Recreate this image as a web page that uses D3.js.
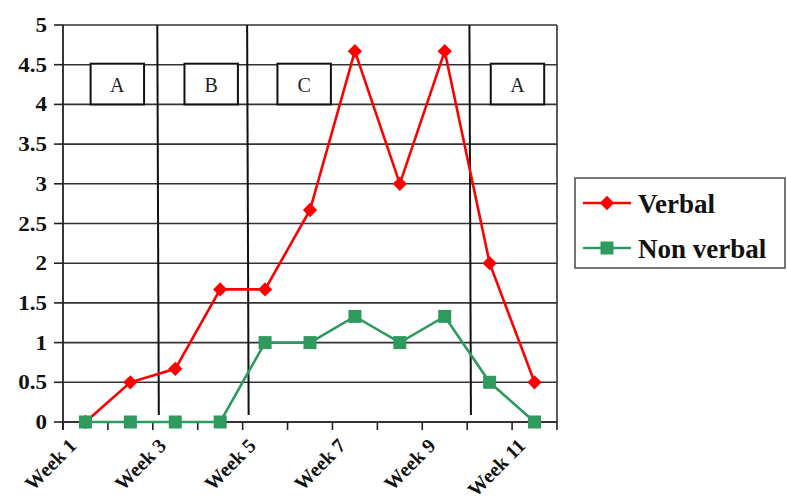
<!DOCTYPE html>
<html><head><meta charset="utf-8">
<script src="https://cdn.jsdelivr.net/npm/d3@7"></script>
<style>body{margin:0;background:#fff}</style>
</head><body><svg id="c" width="787" height="503"></svg>
<script>
const weeks = ["Week 1","Week 2","Week 3","Week 4","Week 5","Week 6","Week 7","Week 8","Week 9","Week 10","Week 11"];
const verbal = [0, 0.5, 0.67, 1.67, 1.67, 2.67, 4.67, 3, 4.67, 2, 0.5];
const nonVerbal = [0, 0, 0, 0, 1, 1, 1.33, 1, 1.33, 0.5, 0];
const yTicks = [0, 0.5, 1, 1.5, 2, 2.5, 3, 3.5, 4, 4.5, 5];
const yTickLabels = ["0","0.5","1","1.5","2","2.5","3","3.5","4","4.5","5"];
const shownWeekLabels = ["Week 1","Week 3","Week 5","Week 7","Week 9","Week 11"];
const phaseLabels = ["A","B","C","A"];
const phaseCenters = [1.21, 3.3, 5.37, 10.12];   // in week-slot units
const phaseBreaks = [2.1, 4.1, 9.05];            // in week-slot units
const seriesNames = ["Verbal","Non verbal"];
const seriesColors = ["#ff0000","#2e9a5e"];

const svg = d3.select("#c");
const L = 63, R = 557, T = 25, B = 422;
const x = d3.scaleLinear().domain([0, weeks.length]).range([L, R]);
const y = d3.scaleLinear().domain([0, 5]).range([B, T]);
const font = "'Liberation Serif','Times New Roman',serif";

// horizontal gridlines
svg.append("g").selectAll("line").data(yTicks).join("line")
  .attr("x1", L).attr("x2", R).attr("y1", d => y(d)).attr("y2", d => y(d))
  .attr("stroke", "#333").attr("stroke-width", 1.6);
// frame left/right/bottom
svg.append("line").attr("x1", L).attr("x2", L).attr("y1", T).attr("y2", B + 8).attr("stroke", "#222").attr("stroke-width", 1.8);
svg.append("line").attr("x1", R).attr("x2", R).attr("y1", T).attr("y2", B).attr("stroke", "#333").attr("stroke-width", 1.6);
svg.append("line").attr("x1", L).attr("x2", R).attr("y1", B).attr("y2", B).attr("stroke", "#333").attr("stroke-width", 1.8);

// y ticks + labels
svg.append("g").selectAll("line").data(yTicks).join("line")
  .attr("x1", L - 9).attr("x2", L).attr("y1", d => y(d)).attr("y2", d => y(d))
  .attr("stroke", "#222").attr("stroke-width", 1.6);
svg.append("g").selectAll("text").data(yTicks).join("text")
  .attr("transform", d => `translate(47,${y(d) + 7}) scale(1.15,1)`)
  .attr("text-anchor", "end").attr("font-family", font).attr("font-weight", "bold")
  .attr("font-size", 20).attr("fill", "#111")
  .text((d, i) => yTickLabels[i]);

// x ticks at slot boundaries
svg.append("g").selectAll("line").data(d3.range(weeks.length + 1)).join("line")
  .attr("x1", d => x(d)).attr("x2", d => x(d)).attr("y1", B).attr("y2", B + 8)
  .attr("stroke", "#222").attr("stroke-width", 1.6);
// x labels
svg.append("g").selectAll("text").data(weeks.map((w, i) => ({w, i})).filter(d => shownWeekLabels.includes(d.w))).join("text")
  .attr("transform", d => `translate(${x(d.i + 0.5) - 8},${B + 25}) rotate(-45)`)
  .attr("text-anchor", "end").attr("font-family", font).attr("font-weight", "bold")
  .attr("font-size", 20).attr("fill", "#111")
  .text(d => d.w);

// phase change lines
svg.append("g").selectAll("line").data(phaseBreaks).join("line")
  .attr("x1", d => x(d)).attr("x2", d => x(d) + 1.5).attr("y1", T).attr("y2", B - 7)
  .attr("stroke", "#111").attr("stroke-width", 2);

// phase boxes
const bw = x(1.19) - x(0);
const pg = svg.append("g").selectAll("g").data(phaseLabels).join("g");
pg.append("rect")
  .attr("x", (d, i) => x(phaseCenters[i]) - bw / 2).attr("y", y(4.5) - 1)
  .attr("width", bw).attr("height", y(4) - y(4.5) + 1)
  .attr("fill", "#fff").attr("stroke", "#111").attr("stroke-width", 2);
pg.append("text")
  .attr("x", (d, i) => x(phaseCenters[i])).attr("y", y(4.25) + 7)
  .attr("text-anchor", "middle").attr("font-family", font).attr("font-size", 20).attr("fill", "#222")
  .text(d => d);

// series
const line = d3.line().x((d, i) => x(i + 0.5)).y(d => y(d));
[verbal, nonVerbal].forEach((s, k) => {
  svg.append("path").datum(s).attr("d", line).attr("fill", "none")
    .attr("stroke", seriesColors[k]).attr("stroke-width", 2.6);
});
const diamond = d3.symbol().type(d3.symbolDiamond2).size(130);
svg.append("g").selectAll("path").data(verbal).join("path")
  .attr("transform", (d, i) => `translate(${x(i + 0.5)},${y(d)})`)
  .attr("d", diamond).attr("fill", seriesColors[0]);
svg.append("g").selectAll("rect").data(nonVerbal).join("rect")
  .attr("x", (d, i) => x(i + 0.5) - 6.5).attr("y", d => y(d) - 6.5)
  .attr("width", 13).attr("height", 13).attr("fill", seriesColors[1]);

// legend
const lg = svg.append("g");
lg.append("rect").attr("x", 575).attr("y", 178).attr("width", 210).attr("height", 90)
  .attr("fill", "#fff").attr("stroke", "#555").attr("stroke-width", 1.6);
const ly = [203, 248];
seriesNames.forEach((n, k) => {
  lg.append("line").attr("x1", 583).attr("x2", 631).attr("y1", ly[k]).attr("y2", ly[k])
    .attr("stroke", seriesColors[k]).attr("stroke-width", 2.6);
  if (k === 0) lg.append("path").attr("transform", `translate(607,${ly[k]})`).attr("d", diamond).attr("fill", seriesColors[k]);
  else lg.append("rect").attr("x", 600.5).attr("y", ly[k] - 6.5).attr("width", 13).attr("height", 13).attr("fill", seriesColors[k]);
  lg.append("text").attr("x", 638).attr("y", ly[k] + 10).attr("font-family", font).attr("font-weight", "bold")
    .attr("font-size", 27).attr("fill", "#111").text(n);
});
</script></body></html>
